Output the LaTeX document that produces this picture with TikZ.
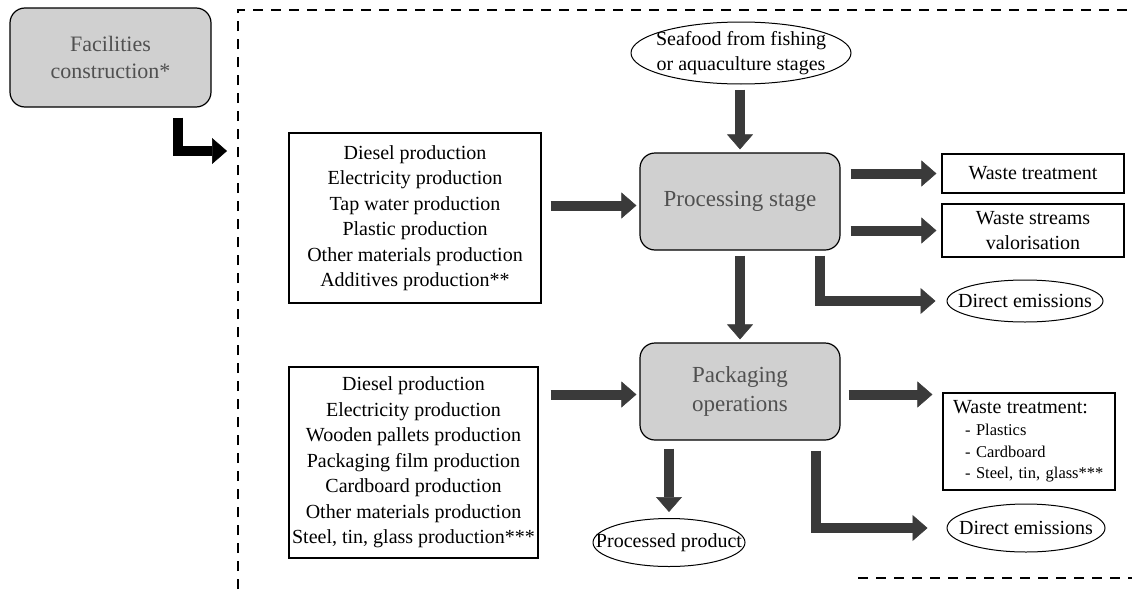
\documentclass[tikz,border=0pt]{standalone}
\usepackage{fontspec}
\setmainfont{Liberation Serif}
\usetikzlibrary{arrows.meta,shapes.geometric}
\definecolor{boxgray}{RGB}{208,208,208}
\definecolor{labgray}{RGB}{80,80,80}
\definecolor{arrgray}{RGB}{58,58,58}
\tikzset{
  stage/.style={draw=black, line width=1.2pt, fill=boxgray, rounded corners=15pt, text=labgray, align=center, font=\fontsize{23}{29}\selectfont, inner sep=0pt},
  listbox/.style={draw=black, line width=1.2pt, align=center, font=\fontsize{20}{25.5}\selectfont, inner sep=0pt},
  ell/.style={draw=black, line width=1pt, ellipse, align=center, inner xsep=-60pt, inner ysep=-30pt, font=\fontsize{20}{25}\selectfont},
  bigarrow/.style={draw=arrgray, line width=10pt, line join=miter, -{Triangle[length=15pt,width=26pt,line width=0.5pt]}},
  blackarrow/.style={bigarrow, draw=black},
  dashframe/.style={draw=black, line width=1.3pt, dash pattern=on 10pt off 8pt},
}
\begin{document}
\begin{tikzpicture}[x=1pt,y=-1pt]
\useasboundingbox (0,0) rectangle (1132,589);
% frame
\coordinate (fr) at (238,151);
\draw[dashframe] (238,589) -- (238,10) -- (1132,10);
\draw[dashframe, line width=1.6pt] (858,578) -- (1132,578);

% nodes
\node[stage, minimum width=201pt, minimum height=99pt, font=\fontsize{22}{27}\selectfont] (fac) at (110.5,57.5) {Facilities\\construction*};
\node[ell, minimum width=220pt, minimum height=62pt] (sea) at (741,53) {Seafood from fishing\\or aquaculture stages};
\node[stage, minimum width=200pt, minimum height=97pt] (proc) at (740,201.5) {Processing stage};
\node[listbox, minimum width=252pt, minimum height=170pt] (in1) at (415,218) {Diesel production\\Electricity production\\Tap water production\\Plastic production\\Other materials production\\Additives production**};
\node[listbox, minimum width=182pt, minimum height=39pt] (wt1) at (1033,173.5) {Waste treatment};
\node[listbox, minimum width=182pt, minimum height=53pt, font=\fontsize{20}{25}\selectfont] (ws) at (1033,230.5) {Waste streams\\valorisation};
\node[ell, minimum width=156pt, minimum height=42pt] (de1) at (1025,301) {Direct emissions};
\node[stage, minimum width=200pt, minimum height=97pt] (pack) at (740,391.5) {Packaging\\operations};
\node[listbox, minimum width=249pt, minimum height=191pt] (in2) at (413.5,462.5) {Diesel production\\Electricity production\\Wooden pallets production\\Packaging film production\\Cardboard production\\Other materials production\\Steel, tin, glass production***};
\node[listbox, minimum width=172pt, minimum height=97pt, text width=152pt, align=left, font=\fontsize{16.5}{21.7}\selectfont] (wt2) at (1029,441.5) {{\fontsize{20}{21.7}\selectfont Waste treatment:}\\\hspace*{12pt}- Plastics\\\hspace*{12pt}- Cardboard\\\mbox{\hspace*{12pt}- Steel, tin, glass***}};
\node[ell, minimum width=152pt, minimum height=48pt] (pp) at (669,542.5) {Processed product};
\node[ell, minimum width=158pt, minimum height=48pt] (de2) at (1026,528) {Direct emissions};

% connectors
\draw[blackarrow, shorten <=10pt, shorten >=11pt] ([xshift=67.5pt]fac.south) -- ([xshift=67.5pt]fac.south |- fr) -- (fr);
\draw[bigarrow, shorten <=5pt, shorten >=3pt] (proc.north |- sea.south) -- (proc.north);
\draw[bigarrow, shorten <=9pt, shorten >=3pt] ([yshift=-4pt]proc.west -| in1.east) -- ([yshift=-4pt]proc.west);
\draw[bigarrow, shorten <=10pt, shorten >=5pt] (proc.east |- wt1.west) -- (wt1.west);
\draw[bigarrow, shorten <=10pt, shorten >=5pt] (proc.east |- ws.west) -- (ws.west);
\draw[bigarrow, shorten <=5pt, shorten >=11pt] ([xshift=80pt]proc.south) -- ([xshift=80pt]proc.south |- de1.west) -- (de1.west);
\draw[bigarrow, shorten <=5pt, shorten >=3pt] (proc.south) -- (pack.north);
\draw[bigarrow, shorten <=12pt, shorten >=3pt] ([yshift=-3pt]pack.west -| in2.east) -- ([yshift=-3pt]pack.west);
\draw[bigarrow, shorten <=8pt, shorten >=10pt] ([yshift=-3pt]pack.east) -- ([yshift=-3pt]pack.east -| wt2.west);
\draw[bigarrow, shorten <=8pt, shorten >=6pt] (pp.north |- pack.south) -- (pp.north);
\draw[bigarrow, shorten <=10pt, shorten >=19pt] ([xshift=76pt]pack.south) -- ([xshift=76pt]pack.south |- de2.west) -- (de2.west);
\end{tikzpicture}
\end{document}
